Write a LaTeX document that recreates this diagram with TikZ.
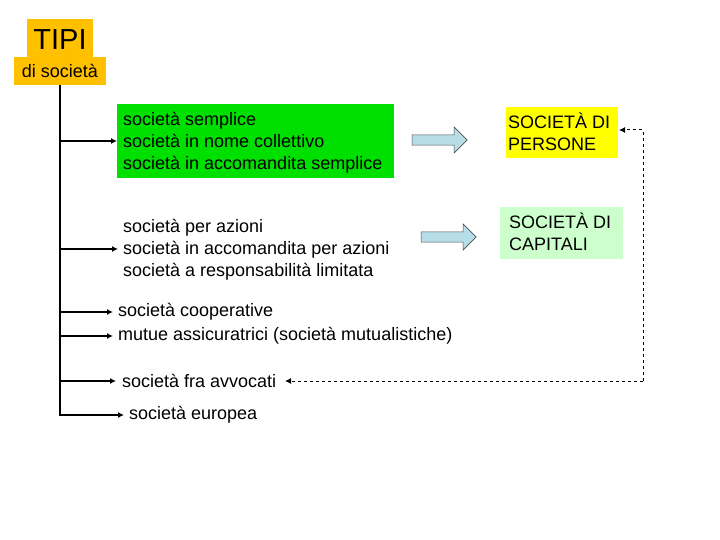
\documentclass[tikz,border=0pt]{standalone}
\usepackage{fontspec}
\setmainfont{Liberation Sans}
\usetikzlibrary{shapes.arrows,arrows.meta}
\definecolor{orng}{HTML}{FFC000}
\definecolor{grn}{HTML}{00E000}
\definecolor{ylw}{HTML}{FFFF00}
\definecolor{lgrn}{HTML}{CCFFCC}
\definecolor{lblue}{HTML}{B7DDE8}
\begin{document}
\begin{tikzpicture}[x=1pt,y=-1pt,
  txt/.style={font=\fontsize{18}{22}\selectfont,align=left,inner sep=0pt,anchor=west},
  conn/.style={line width=1.3pt,-{Latex[length=6pt,width=6pt]}},
  dconn/.style={dashed,line width=1pt,-{Latex[length=6pt,width=6pt]}},
  barrow/.style={single arrow,draw=black!70,fill=lblue,line width=0.6pt,minimum height=55pt,minimum width=26pt,single arrow head extend=5pt,single arrow head indent=0pt,inner sep=3pt}]
\useasboundingbox (0,0) rectangle (720,540);
\fill[orng] (27,19) rectangle (93,57);
\fill[orng] (14,57) rectangle (106,85);
\node[font=\fontsize{29}{29}\selectfont] (tipi) at (60,40) {TIPI};
\node[font=\fontsize{18}{18}\selectfont] (di) at (60,71) {di società};
\fill[grn] (117,104) rectangle (394,178);
\node[txt] (g1) at (123,143) {società semplice\\società in nome collettivo\\società in accomandita semplice};
\node[txt] (g2) at (123,250) {società per azioni\\società in accomandita per azioni\\società a responsabilità limitata};
\node[txt] (coop) at (118,312) {società cooperative};
\node[txt] (mut) at (118,336) {mutue assicuratrici (società mutualistiche)};
\node[txt] (avv) at (122,381) {società fra avvocati};
\node[txt] (eur) at (129,415) {società europea};
\fill[ylw] (506,107) rectangle (618,158);
\node[txt] (pers) at (508,132) {SOCIETÀ DI\\PERSONE};
\fill[lgrn] (500,207) rectangle (623,259);
\node[txt] (cap) at (509,232) {SOCIETÀ DI\\CAPITALI};
\node[barrow] (a1) at (437,140) {};
\node[barrow] (a2) at (446,237) {};
\coordinate (top) at (60,85);
\draw[line width=1.3pt] (top) -- (60,415) -- (120,415);
\draw[conn] (60,141) -- (117,141);
\draw[conn] (60,249) -- (118,249);
\draw[conn] (60,312) -- (113,312);
\draw[conn] (60,336) -- (113,336);
\draw[conn] (60,381) -- (116,381);
\draw[conn] (60,415) -- (124,415);
\coordinate (c1) at (643,381);
\coordinate (c2) at (643,130);
\draw[dconn] (c1) -- (avv.east -| 285,0);
\draw[dconn] (c1) -- (c2) -- (619,130);
\end{tikzpicture}
\end{document}
